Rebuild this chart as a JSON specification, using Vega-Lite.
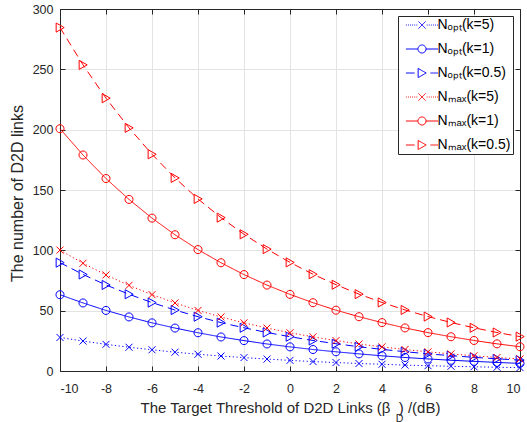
{
  "$schema": "https://vega.github.io/schema/vega-lite/v6.json",
  "autosize": {"type": "none"},
  "width": 460,
  "height": 362,
  "padding": {"left": 60, "top": 9, "right": 7, "bottom": 51},
  "background": "white",
  "config": {
    "view": {"stroke": null},
    "font": "Liberation Sans",
    "axis": {
      "labelFont": "Liberation Sans",
      "labelFontSize": 12.5,
      "labelColor": "#262626",
      "titleFont": "Liberation Sans",
      "titleFontSize": 15,
      "titleFontWeight": "normal",
      "titleColor": "#262626",
      "domainColor": "#262626",
      "domainWidth": 1,
      "tickColor": "#262626",
      "tickWidth": 1,
      "tickSize": -5,
      "gridColor": "#e3e3e3",
      "gridWidth": 1
    },
    "legend": {
      "orient": "top-right",
      "offset": 7,
      "padding": 2,
      "strokeColor": "#262626",
      "fillColor": "white",
      "symbolSize": 49,
      "symbolStrokeWidth": 1,
      "labelFont": "Liberation Sans",
      "labelFontSize": 14,
      "labelColor": "black",
      "rowPadding": 10,
      "symbolOffset": 15,
      "labelOffset": 8.5
    }
  },
  "data": {
    "values": [
      {"series": "Nopt(k=5)", "x": -10, "y": 27.8}, {"series": "Nopt(k=5)", "x": -9, "y": 24.8}, {"series": "Nopt(k=5)", "x": -8, "y": 22.1}, {"series": "Nopt(k=5)", "x": -7, "y": 19.7}, {"series": "Nopt(k=5)", "x": -6, "y": 17.6}, {"series": "Nopt(k=5)", "x": -5, "y": 15.6}, {"series": "Nopt(k=5)", "x": -4, "y": 13.9}, {"series": "Nopt(k=5)", "x": -3, "y": 12.4}, {"series": "Nopt(k=5)", "x": -2, "y": 11.1}, {"series": "Nopt(k=5)", "x": -1, "y": 9.9}, {"series": "Nopt(k=5)", "x": 0, "y": 8.8}, {"series": "Nopt(k=5)", "x": 1, "y": 7.8}, {"series": "Nopt(k=5)", "x": 2, "y": 7.0}, {"series": "Nopt(k=5)", "x": 3, "y": 6.2}, {"series": "Nopt(k=5)", "x": 4, "y": 5.6}, {"series": "Nopt(k=5)", "x": 5, "y": 4.9}, {"series": "Nopt(k=5)", "x": 6, "y": 4.4}, {"series": "Nopt(k=5)", "x": 7, "y": 3.9}, {"series": "Nopt(k=5)", "x": 8, "y": 3.5}, {"series": "Nopt(k=5)", "x": 9, "y": 3.1}, {"series": "Nopt(k=5)", "x": 10, "y": 2.8},
      {"series": "Nopt(k=1)", "x": -10, "y": 63.2}, {"series": "Nopt(k=1)", "x": -9, "y": 56.4}, {"series": "Nopt(k=1)", "x": -8, "y": 50.2}, {"series": "Nopt(k=1)", "x": -7, "y": 44.8}, {"series": "Nopt(k=1)", "x": -6, "y": 39.9}, {"series": "Nopt(k=1)", "x": -5, "y": 35.6}, {"series": "Nopt(k=1)", "x": -4, "y": 31.7}, {"series": "Nopt(k=1)", "x": -3, "y": 28.2}, {"series": "Nopt(k=1)", "x": -2, "y": 25.2}, {"series": "Nopt(k=1)", "x": -1, "y": 22.4}, {"series": "Nopt(k=1)", "x": 0, "y": 20.0}, {"series": "Nopt(k=1)", "x": 1, "y": 17.8}, {"series": "Nopt(k=1)", "x": 2, "y": 15.9}, {"series": "Nopt(k=1)", "x": 3, "y": 14.2}, {"series": "Nopt(k=1)", "x": 4, "y": 12.6}, {"series": "Nopt(k=1)", "x": 5, "y": 11.2}, {"series": "Nopt(k=1)", "x": 6, "y": 10.0}, {"series": "Nopt(k=1)", "x": 7, "y": 8.9}, {"series": "Nopt(k=1)", "x": 8, "y": 8.0}, {"series": "Nopt(k=1)", "x": 9, "y": 7.1}, {"series": "Nopt(k=1)", "x": 10, "y": 6.3},
      {"series": "Nopt(k=0.5)", "x": -10, "y": 89.8}, {"series": "Nopt(k=0.5)", "x": -9, "y": 80.0}, {"series": "Nopt(k=0.5)", "x": -8, "y": 71.3}, {"series": "Nopt(k=0.5)", "x": -7, "y": 63.6}, {"series": "Nopt(k=0.5)", "x": -6, "y": 56.7}, {"series": "Nopt(k=0.5)", "x": -5, "y": 50.5}, {"series": "Nopt(k=0.5)", "x": -4, "y": 45.0}, {"series": "Nopt(k=0.5)", "x": -3, "y": 40.1}, {"series": "Nopt(k=0.5)", "x": -2, "y": 35.8}, {"series": "Nopt(k=0.5)", "x": -1, "y": 31.9}, {"series": "Nopt(k=0.5)", "x": 0, "y": 28.4}, {"series": "Nopt(k=0.5)", "x": 1, "y": 25.3}, {"series": "Nopt(k=0.5)", "x": 2, "y": 22.6}, {"series": "Nopt(k=0.5)", "x": 3, "y": 20.1}, {"series": "Nopt(k=0.5)", "x": 4, "y": 17.9}, {"series": "Nopt(k=0.5)", "x": 5, "y": 16.0}, {"series": "Nopt(k=0.5)", "x": 6, "y": 14.2}, {"series": "Nopt(k=0.5)", "x": 7, "y": 12.7}, {"series": "Nopt(k=0.5)", "x": 8, "y": 11.3}, {"series": "Nopt(k=0.5)", "x": 9, "y": 10.1}, {"series": "Nopt(k=0.5)", "x": 10, "y": 9.0},
      {"series": "Nmax(k=5)", "x": -10, "y": 100.2}, {"series": "Nmax(k=5)", "x": -9, "y": 89.3}, {"series": "Nmax(k=5)", "x": -8, "y": 79.6}, {"series": "Nmax(k=5)", "x": -7, "y": 71.0}, {"series": "Nmax(k=5)", "x": -6, "y": 63.3}, {"series": "Nmax(k=5)", "x": -5, "y": 56.4}, {"series": "Nmax(k=5)", "x": -4, "y": 50.2}, {"series": "Nmax(k=5)", "x": -3, "y": 44.8}, {"series": "Nmax(k=5)", "x": -2, "y": 39.9}, {"series": "Nmax(k=5)", "x": -1, "y": 35.6}, {"series": "Nmax(k=5)", "x": 0, "y": 31.7}, {"series": "Nmax(k=5)", "x": 1, "y": 28.3}, {"series": "Nmax(k=5)", "x": 2, "y": 25.2}, {"series": "Nmax(k=5)", "x": 3, "y": 22.4}, {"series": "Nmax(k=5)", "x": 4, "y": 20.0}, {"series": "Nmax(k=5)", "x": 5, "y": 17.8}, {"series": "Nmax(k=5)", "x": 6, "y": 15.9}, {"series": "Nmax(k=5)", "x": 7, "y": 14.2}, {"series": "Nmax(k=5)", "x": 8, "y": 12.6}, {"series": "Nmax(k=5)", "x": 9, "y": 11.2}, {"series": "Nmax(k=5)", "x": 10, "y": 10.0},
      {"series": "Nmax(k=1)", "x": -10, "y": 200.8}, {"series": "Nmax(k=1)", "x": -9, "y": 179.0}, {"series": "Nmax(k=1)", "x": -8, "y": 159.5}, {"series": "Nmax(k=1)", "x": -7, "y": 142.2}, {"series": "Nmax(k=1)", "x": -6, "y": 126.7}, {"series": "Nmax(k=1)", "x": -5, "y": 112.9}, {"series": "Nmax(k=1)", "x": -4, "y": 100.6}, {"series": "Nmax(k=1)", "x": -3, "y": 89.7}, {"series": "Nmax(k=1)", "x": -2, "y": 79.9}, {"series": "Nmax(k=1)", "x": -1, "y": 71.2}, {"series": "Nmax(k=1)", "x": 0, "y": 63.5}, {"series": "Nmax(k=1)", "x": 1, "y": 56.6}, {"series": "Nmax(k=1)", "x": 2, "y": 50.4}, {"series": "Nmax(k=1)", "x": 3, "y": 45.0}, {"series": "Nmax(k=1)", "x": 4, "y": 40.1}, {"series": "Nmax(k=1)", "x": 5, "y": 35.7}, {"series": "Nmax(k=1)", "x": 6, "y": 31.8}, {"series": "Nmax(k=1)", "x": 7, "y": 28.4}, {"series": "Nmax(k=1)", "x": 8, "y": 25.3}, {"series": "Nmax(k=1)", "x": 9, "y": 22.5}, {"series": "Nmax(k=1)", "x": 10, "y": 20.1},
      {"series": "Nmax(k=0.5)", "x": -10, "y": 284.6}, {"series": "Nmax(k=0.5)", "x": -9, "y": 253.7}, {"series": "Nmax(k=0.5)", "x": -8, "y": 226.1}, {"series": "Nmax(k=0.5)", "x": -7, "y": 201.5}, {"series": "Nmax(k=0.5)", "x": -6, "y": 179.6}, {"series": "Nmax(k=0.5)", "x": -5, "y": 160.0}, {"series": "Nmax(k=0.5)", "x": -4, "y": 142.6}, {"series": "Nmax(k=0.5)", "x": -3, "y": 127.1}, {"series": "Nmax(k=0.5)", "x": -2, "y": 113.3}, {"series": "Nmax(k=0.5)", "x": -1, "y": 101.0}, {"series": "Nmax(k=0.5)", "x": 0, "y": 90.0}, {"series": "Nmax(k=0.5)", "x": 1, "y": 80.2}, {"series": "Nmax(k=0.5)", "x": 2, "y": 71.5}, {"series": "Nmax(k=0.5)", "x": 3, "y": 63.7}, {"series": "Nmax(k=0.5)", "x": 4, "y": 56.8}, {"series": "Nmax(k=0.5)", "x": 5, "y": 50.6}, {"series": "Nmax(k=0.5)", "x": 6, "y": 45.1}, {"series": "Nmax(k=0.5)", "x": 7, "y": 40.2}, {"series": "Nmax(k=0.5)", "x": 8, "y": 35.8}, {"series": "Nmax(k=0.5)", "x": 9, "y": 31.9}, {"series": "Nmax(k=0.5)", "x": 10, "y": 28.5}
    ]
  },
  "resolve": {"axis": {"x": "independent", "y": "independent"}},
  "layer": [
    {
      "mark": {"type": "line", "strokeWidth": 1},
      "encoding": {
        "x": {
          "field": "x", "type": "quantitative",
          "scale": {"domain": [-10, 10], "nice": false},
          "axis": {
            "orient": "bottom",
            "values": [-10, -8, -6, -4, -2, 0, 2, 4, 6, 8, 10],
            "labelExpr": "replace(datum.label, '−', '-')",
            "labelPadding": 16,
            "title": "The Target Threshold of D2D Links (β\u00a0\u00a0) /(dB)",
            "titleBaseline": "alphabetic",
            "titleY": 41.6,
            "grid": true
          }
        },
        "y": {
          "field": "y", "type": "quantitative",
          "scale": {"domain": [0, 300], "nice": false},
          "axis": {
            "orient": "left",
            "values": [0, 50, 100, 150, 200, 250, 300],
            "labelPadding": 12,
            "title": "The number of D2D links",
            "titleFontSize": 16,
            "titleBaseline": "alphabetic",
            "titleAngle": -90,
            "titleX": -37.3,
            "titleY": 184,
            "grid": true
          }
        },
        "color": {
          "field": "series", "type": "nominal",
          "scale": {
            "domain": ["Nopt(k=5)", "Nopt(k=1)", "Nopt(k=0.5)", "Nmax(k=5)", "Nmax(k=1)", "Nmax(k=0.5)"],
            "range": ["#0000ff", "#0000ff", "#0000ff", "#ff0000", "#ff0000", "#ff0000"]
          },
          "legend": {
            "title": null,
            "labelExpr": "replace(replace(datum.label, 'opt', 'ₒₚₜ'), 'max', 'ₘₐₓ')",
            "encode": {
              "symbols": {
                "update": {
                  "shape": {"signal": "indexof(datum.value, 'k=5)') >= 0 ? 'M-4.6,0L-4.35,0M-4,0L-3.75,0M-3.4,0L-3.15,0M-2.8,0L-2.55,0M-2.2,0L-1.95,0M-1.6,0L-1.35,0M1.35,0L1.6,0M1.95,0L2.2,0M2.55,0L2.8,0M3.15,0L3.4,0M3.75,0L4,0M4.35,0L4.6,0M-1,-1L1,1M-1,1L1,-1' : (indexof(datum.value, 'k=1)') >= 0 ? 'M-4.6,0L-1.15,0M1.15,0L4.6,0M1.15,0A1.15,1.15,0,1,1,-1.15,0A1.15,1.15,0,1,1,1.15,0' : 'M-4.6,0L-2.1,0M2.4,0L4.6,0M-1.1,-1.3L1.2,0L-1.1,1.3Z')"},
                  "fill": {"value": "transparent"},
                  "strokeWidth": {"value": 1},
                  "strokeDash": {"value": [1, 0]},
                  "opacity": {"value": 1}
                }
              }
            }
          }
        },
        "strokeDash": {
          "field": "series", "type": "nominal",
          "scale": {
            "domain": ["Nopt(k=0.5)", "Nopt(k=1)", "Nopt(k=5)", "Nmax(k=0.5)", "Nmax(k=1)", "Nmax(k=5)"],
            "range": [[8, 5], [1, 0], [1.2, 2.5], [8, 5], [1, 0], [1.2, 2.5]]
          },
          "legend": null
        }
      }
    },
    {
      "mark": {"type": "point", "filled": false, "size": 49, "strokeWidth": 1, "opacity": 1},
      "encoding": {
        "x": {
          "field": "x", "type": "quantitative",
          "axis": {
            "orient": "top",
            "values": [-10, -8, -6, -4, -2, 0, 2, 4, 6, 8, 10],
            "labels": false,
            "grid": false,
            "title": "D",
            "titleFontSize": 10.5,
            "titleBaseline": "alphabetic",
            "titleAlign": "center",
            "titleX": 339,
            "titleY": 412
          }
        },
        "y": {
          "field": "y", "type": "quantitative",
          "axis": {
            "orient": "right",
            "values": [0, 50, 100, 150, 200, 250, 300],
            "labels": false,
            "grid": false,
            "title": null
          }
        },
        "color": {
          "field": "series", "type": "nominal",
          "legend": {
            "title": null,
            "labelExpr": "replace(replace(datum.label, 'opt', 'ₒₚₜ'), 'max', 'ₘₐₓ')",
            "encode": {
              "symbols": {
                "update": {
                  "shape": {"signal": "indexof(datum.value, 'k=5)') >= 0 ? 'M-4.6,0L-4.35,0M-4,0L-3.75,0M-3.4,0L-3.15,0M-2.8,0L-2.55,0M-2.2,0L-1.95,0M-1.6,0L-1.35,0M1.35,0L1.6,0M1.95,0L2.2,0M2.55,0L2.8,0M3.15,0L3.4,0M3.75,0L4,0M4.35,0L4.6,0M-1,-1L1,1M-1,1L1,-1' : (indexof(datum.value, 'k=1)') >= 0 ? 'M-4.6,0L-1.15,0M1.15,0L4.6,0M1.15,0A1.15,1.15,0,1,1,-1.15,0A1.15,1.15,0,1,1,1.15,0' : 'M-4.6,0L-2.1,0M2.4,0L4.6,0M-1.1,-1.3L1.2,0L-1.1,1.3Z')"},
                  "fill": {"value": "transparent"},
                  "strokeWidth": {"value": 1},
                  "strokeDash": {"value": [1, 0]},
                  "opacity": {"value": 1}
                }
              }
            }
          }
        },
        "shape": {
          "field": "series", "type": "nominal",
          "scale": {
            "domain": ["Nmax(k=5)", "Nmax(k=1)", "Nmax(k=0.5)", "Nopt(k=5)", "Nopt(k=1)", "Nopt(k=0.5)"],
            "range": [
              "M-1,-1L1,1M-1,1L1,-1",
              "M1.15,0A1.15,1.15,0,1,1,-1.15,0A1.15,1.15,0,1,1,1.15,0",
              "M-1.1,-1.3L1.2,0L-1.1,1.3Z",
              "M-1,-1L1,1M-1,1L1,-1",
              "M1.15,0A1.15,1.15,0,1,1,-1.15,0A1.15,1.15,0,1,1,1.15,0",
              "M-1.1,-1.3L1.2,0L-1.1,1.3Z"
            ]
          },
          "legend": null
        }
      }
    }
  ]
}
